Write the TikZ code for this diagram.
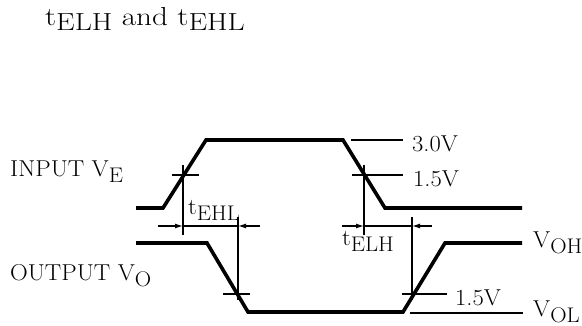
\documentclass[tikz,border=0pt]{standalone}
\usepackage{fontspec}
\usetikzlibrary{arrows.meta}
\newcommand\lsub[1]{\raisebox{-0.25em}{\scalebox{0.92}{#1}}}
\newcommand\tsub[1]{\raisebox{-0.17em}{\scalebox{0.95}{#1}}}
\newcommand\wlab[1]{\scalebox{1.07}[1]{#1}}
\newcommand\wttl[1]{\scalebox{1.2}[1]{#1}}
\tikzset{
  wave/.style={line width=3.6pt, line join=miter},
  thin/.style={line width=1.2pt},
  dimarr/.style={line width=1.2pt, -{Latex[length=8pt,width=5pt]}},
  lbl/.style={anchor=base west, inner sep=0pt, font=\fontsize{23}{27}\selectfont},
  ttl/.style={anchor=base west, inner sep=0pt, font=\fontsize{26}{30}\selectfont}
}
\begin{document}
\begin{tikzpicture}[x=1pt,y=-1pt]
\useasboundingbox (0,0) rectangle (582,326);
% title
\node[ttl] (title) at (45,26) {\wttl{t\tsub{ELH} and t\tsub{EHL}}};
% left labels
\node[lbl] (inp) at (10,177) {\wlab{INPUT V\lsub{E}}};
\node[lbl] (outp) at (10,281) {\wlab{OUTPUT V\lsub{O}}};
% waveforms
\draw[wave] (136,208) -- (163,208) -- (206,140) -- (343,140) -- (385,208) -- (522,208);
\draw[wave] (136,243) -- (207,243) -- (248,312) -- (403,312) -- (445,243) -- (522,243);
% input reference lines
\draw[thin] (351,140) -- (403,140);
\node[lbl] (v30) at (412,152) {\wlab{3.0V}};
\draw[thin] (352,175) -- (403,175);
\node[lbl] (v15a) at (413,187) {\wlab{1.5V}};
\draw[thin] (172,175) -- (199,175);
\draw[thin] (183,165) -- (183,235);
\draw[thin] (364,165) -- (364,235);
% output reference lines
\draw[thin] (223,294) -- (250,294);
\draw[thin] (238,217) -- (238,300);
\draw[thin] (402,294) -- (447,294);
\draw[thin] (412,217) -- (412,300);
\node[lbl] (v15b) at (455,306) {\wlab{1.5V}};
\draw[thin] (410,313) -- (523,313);
\node[lbl] (voh) at (533,248) {\wlab{V\lsub{OH}}};
\node[lbl] (vol) at (533,317) {\wlab{V\lsub{OL}}};
% dimension arrows
\coordinate (a1) at (158,226);
\coordinate (a2) at (183,226);
\coordinate (a3) at (238,226);
\coordinate (a4) at (260,226);
\draw[dimarr] (a1) -- (a2);
\draw[thin] (a2) -- (a3);
\draw[dimarr] (a4) -- (a3);
\coordinate (b1) at (342,226);
\coordinate (b2) at (364,226);
\coordinate (b3) at (412,226);
\coordinate (b4) at (432,226);
\draw[dimarr] (b1) -- (b2);
\draw[thin] (b2) -- (b3);
\draw[dimarr] (b4) -- (b3);
\node[lbl] (tehl) at (188,215) {\wlab{t\lsub{EHL}}};
\node[lbl] (telh) at (342,246) {\wlab{t\lsub{ELH}}};
\end{tikzpicture}
\end{document}
